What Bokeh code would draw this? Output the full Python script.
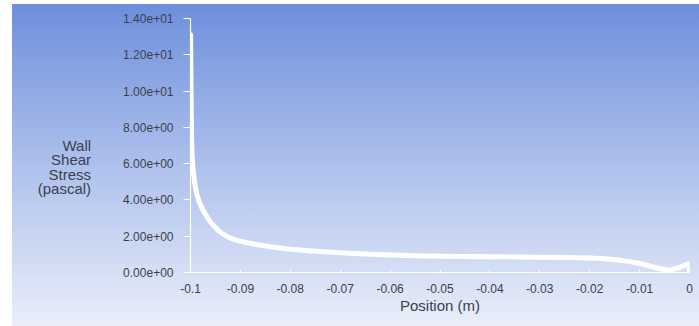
from bokeh.plotting import figure
from bokeh.models import FixedTicker, Range1d
from bokeh.embed import file_html
from bokeh.resources import INLINE

# ---- data ----
position = [-0.09998, -0.09995, -0.0999, -0.09985, -0.0998, -0.0997, -0.0995, -0.0992,
            -0.0988, -0.0984, -0.0978, -0.0970, -0.0962, -0.0954, -0.0944, -0.0934,
            -0.092, -0.090, -0.087, -0.084, -0.080, -0.075, -0.070, -0.065, -0.060,
            -0.055, -0.050, -0.045, -0.040, -0.035, -0.030, -0.025, -0.020, -0.017,
            -0.014, -0.012, -0.010, -0.008, -0.006, -0.004, -0.002, 0.0, 0.0]
wall_shear = [13.1, 12.0, 10.5, 9.0, 7.6, 6.6, 5.7, 5.0,
              4.4, 4.0, 3.6, 3.2, 2.85, 2.6, 2.3, 2.1,
              1.9, 1.72, 1.55, 1.42, 1.28, 1.17, 1.09, 1.02, 0.97,
              0.93, 0.90, 0.88, 0.87, 0.86, 0.84, 0.83, 0.80, 0.76,
              0.68, 0.60, 0.50, 0.36, 0.22, 0.12, 0.28, 0.50, 0.05]

x_ticks = [-0.1, -0.09, -0.08, -0.07, -0.06, -0.05, -0.04, -0.03, -0.02, -0.01, 0.0]
x_tick_labels = ["-0.1", "-0.09", "-0.08", "-0.07", "-0.06", "-0.05", "-0.04",
                 "-0.03", "-0.02", "-0.01", "0"]
y_ticks = [0.0, 2.0, 4.0, 6.0, 8.0, 10.0, 12.0, 14.0]
y_tick_labels = ["0.00e+00", "2.00e+00", "4.00e+00", "6.00e+00", "8.00e+00",
                 "1.00e+01", "1.20e+01", "1.40e+01"]

x_title = "Position (m)"
y_title = "\n\n\nWall\nShear\nStress\n(pascal)"

FONT = "Liberation Sans"
TXT = "#3d404c"

p = figure(width=699, height=326, output_backend="svg", toolbar_location=None,
           x_range=Range1d(-0.1, 0.0), y_range=Range1d(0, 14),
           min_border_left=190, min_border_right=10, min_border_top=18,
           min_border_bottom=54)

p.styles = {"background": "linear-gradient(to right, #ffffff 0px, #ffffff 12px, rgba(0,0,0,0) 12px), "
                          "linear-gradient(to bottom, #ffffff 0px, #ffffff 4px, rgba(0,0,0,0) 4px), "
                          "linear-gradient(to bottom, #6b8edc 0%, #a7bbea 45%, #e9eef9 100%)"}
p.background_fill_alpha = 0
p.border_fill_alpha = 0
p.outline_line_color = None
p.xgrid.visible = False
p.ygrid.visible = False

p.line(position, wall_shear, line_color="white", line_width=5,
       line_join="round", line_cap="round")

for ax in (p.xaxis[0], p.yaxis[0]):
    ax.axis_line_color = "white"
    ax.axis_line_width = 1.2
    ax.major_tick_line_color = "white"
    ax.minor_tick_line_color = None
    ax.major_label_text_font = FONT
    ax.major_label_text_font_size = "12px"
    ax.major_label_text_color = TXT
    ax.axis_label_text_font = FONT
    ax.axis_label_text_font_style = "normal"
    ax.axis_label_text_color = TXT

p.xaxis.ticker = FixedTicker(ticks=x_ticks)
p.xaxis.major_label_overrides = dict(zip(x_ticks, x_tick_labels))
p.xaxis.major_tick_in = 3
p.xaxis.major_tick_out = 0
p.xaxis.major_label_standoff = 11
p.xaxis.axis_label = x_title
p.xaxis.axis_label_text_font_size = "15px"
p.xaxis.axis_label_standoff = 1

p.yaxis.ticker = FixedTicker(ticks=y_ticks)
p.yaxis.major_label_overrides = dict(zip(y_ticks, y_tick_labels))
p.yaxis.major_tick_in = 0
p.yaxis.major_tick_out = 7
p.yaxis.major_label_standoff = 10
p.yaxis.axis_label = y_title
p.yaxis.axis_label_orientation = "horizontal"
p.yaxis.axis_label_text_align = "right"
p.yaxis.axis_label_text_font_size = "15px"
p.yaxis.axis_label_text_line_height = 0.84
p.yaxis.axis_label_standoff = 29

open("out.html", "w").write(file_html(p, INLINE))
